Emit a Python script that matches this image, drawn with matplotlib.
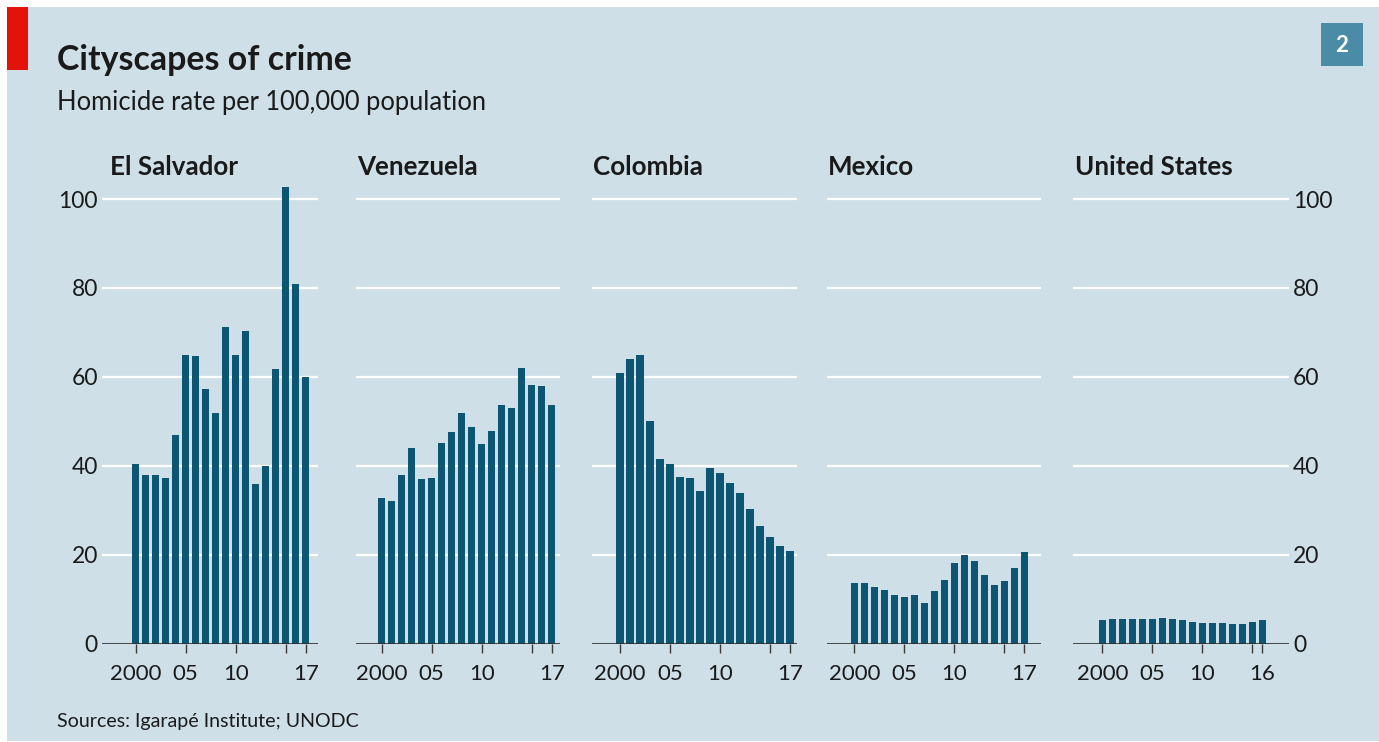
import matplotlib
matplotlib.use("Agg")
import matplotlib.pyplot as plt
from matplotlib.patches import Rectangle

# ---------------- data ----------------
countries = ["El Salvador", "Venezuela", "Colombia", "Mexico", "United States"]
years_17 = list(range(2000, 2018))
years_16 = list(range(2000, 2017))

el_salvador = [40.4, 37.8, 37.8, 37.2, 46.8, 64.9, 64.7, 57.3, 51.9, 71.2,
               64.9, 70.2, 35.9, 40.0, 61.8, 102.8, 80.9, 60.0]
venezuela = [32.8, 32.0, 38.0, 44.0, 37.0, 37.3, 45.0, 47.6, 51.9, 48.8,
             44.9, 47.9, 53.7, 53.0, 61.9, 58.1, 58.0, 53.6]
colombia = [60.9, 63.9, 64.9, 50.0, 41.4, 40.4, 37.5, 37.2, 34.3, 39.4,
            38.4, 36.0, 33.8, 30.3, 26.5, 24.0, 21.9, 20.7]
mexico = [13.7, 13.5, 12.6, 12.0, 11.0, 10.5, 10.8, 9.2, 11.8, 14.3,
          18.0, 19.8, 18.6, 15.5, 13.1, 14.1, 16.9, 20.5]
united_states = [5.3, 5.5, 5.5, 5.6, 5.4, 5.5, 5.7, 5.6, 5.3, 4.9,
                 4.7, 4.6, 4.6, 4.4, 4.3, 4.9, 5.2]

series = [el_salvador, venezuela, colombia, mexico, united_states]
years = [years_17, years_17, years_17, years_17, years_16]

xticks_17 = [2000, 2005, 2010, 2015, 2017]
xticklabels_17 = ["2000", "05", "10", "", "17"]
xticks_16 = [2000, 2005, 2010, 2015, 2016]
xticklabels_16 = ["2000", "05", "10", "", "16"]
xticks = [xticks_17] * 4 + [xticks_16]
xticklabels = [xticklabels_17] * 4 + [xticklabels_16]

yticks = [0, 20, 40, 60, 80, 100]
yticklabels = ["0", "20", "40", "60", "80", "100"]

title = "Cityscapes of crime"
subtitle = "Homicide rate per 100,000 population"
source = "Sources: Igarapé Institute; UNODC"

# ---------------- style ----------------
W, H = 1379, 742
DPI = 100
BG = "#cfdfe8"
BAR = "#0c5573"
TXT = "#1a1a1a"
FONT = "Lato"
plt.rcParams["font.family"] = [FONT, "DejaVu Sans"]

fig = plt.figure(figsize=(W / DPI, H / DPI), dpi=DPI)
fig.patch.set_facecolor("white")

def fx(px):
    return px / W

def fy(py):
    return 1 - py / H

# background panel
fig.add_artist(Rectangle((fx(7), fy(741)), fx(W) - fx(7), fy(7) - fy(741),
                         transform=fig.transFigure, facecolor=BG, edgecolor="none", zorder=0))
# red tag
fig.add_artist(Rectangle((fx(7), fy(70)), fx(28) - fx(7), fy(7) - fy(70),
                         transform=fig.transFigure, facecolor="#e3120b", edgecolor="none", zorder=1))
# number box
fig.add_artist(Rectangle((fx(1321), fy(66)), fx(1363) - fx(1321), fy(23) - fy(66),
                         transform=fig.transFigure, facecolor="#4a8ba6", edgecolor="none", zorder=1))
fig.text(fx(1342), fy(45), "2", color="white", fontsize=16, fontweight="bold",
         ha="center", va="center", zorder=2)

renderer = fig.canvas.get_renderer()

def fit(t, target_w):
    for _ in range(3):
        w = t.get_window_extent(renderer).width
        t.set_fontsize(t.get_fontsize() * target_w / w)

t = fig.text(fx(57), fy(70), title, fontsize=26, fontweight="bold", color=TXT, va="baseline")
fit(t, 295)
t = fig.text(fx(57), fy(110), subtitle, fontsize=18, color=TXT, va="baseline")
fit(t, 431)
t = fig.text(fx(57), fy(727), source, fontsize=13, color=TXT, va="baseline")
fit(t, 301)

# panel layout in pixels: (axes left, x of year 2000, axes right, title x)
panels = [(102, 135.7, 318, 110),
          (356, 381.7, 560, 357),
          (592, 620.0, 797, 593),
          (827, 854.3, 1041, 828),
          (1073, 1102.3, 1289, 1075)]
PX_PER_YEAR = 10.0
Y0, Y100 = 643.5, 199.0
YMAX = 105
ppu = (Y0 - Y100) / 100.0
top_px = Y0 - YMAX * ppu

panel_title_size = None
for i, (left, x2000, right, tx) in enumerate(panels):
    ax = fig.add_axes([fx(left), fy(Y0), fx(right) - fx(left), fy(top_px) - fy(Y0)])
    ax.set_facecolor("none")
    ax.set_xlim(2000 - (x2000 - left) / PX_PER_YEAR, 2000 + (right - x2000) / PX_PER_YEAR)
    ax.set_ylim(0, YMAX)
    for s in ax.spines.values():
        s.set_visible(False)
    for y in yticks[1:]:
        ax.axhline(y, color="white", lw=1.6, zorder=1)
    ax.bar(years[i], series[i], width=0.72, color=BAR, edgecolor="none", zorder=2)
    ax.axhline(0, color="#2b2b2b", lw=1.2, zorder=3)
    ax.set_xticks(xticks[i])
    ax.set_xticklabels(xticklabels[i])
    ax.tick_params(axis="x", length=6.5, width=1.0, color="#3a3a3a", pad=8,
                   labelsize=16, labelcolor=TXT)
    if i == 0:
        ax.set_yticks(yticks)
        ax.set_yticklabels(yticklabels)
        ax.tick_params(axis="y", length=0, pad=3, labelsize=16.5, labelcolor=TXT)
    elif i == len(panels) - 1:
        ax.yaxis.tick_right()
        ax.set_yticks(yticks)
        ax.set_yticklabels(yticklabels)
        ax.tick_params(axis="y", length=0, pad=3, labelsize=16.5, labelcolor=TXT)
    else:
        ax.set_yticks([])
    pt = fig.text(fx(tx), fy(175), countries[i], fontsize=16, fontweight="bold",
                  color=TXT, va="baseline")
    if i == 0:
        fit(pt, 128)
        panel_title_size = pt.get_fontsize()
    else:
        pt.set_fontsize(panel_title_size)

fig.savefig("out.png", dpi=DPI, facecolor=fig.get_facecolor())
